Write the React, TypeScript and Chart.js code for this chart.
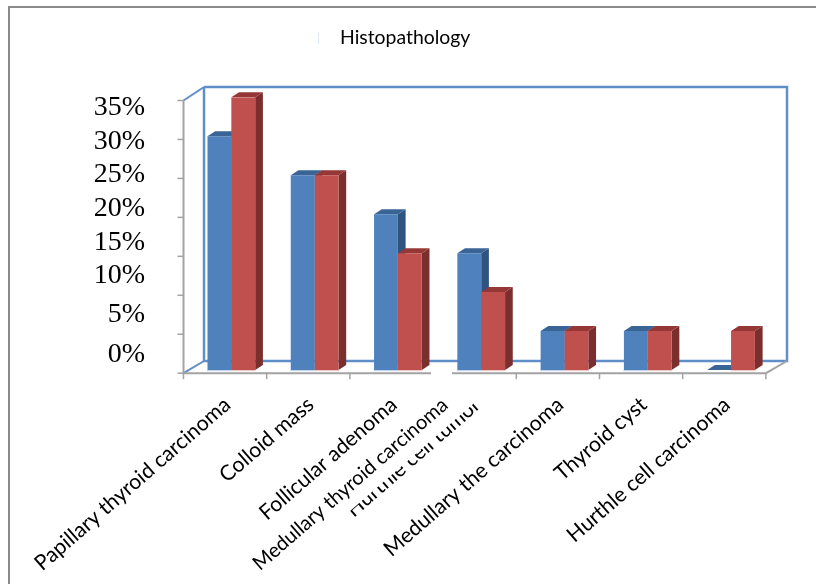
import React, { useEffect, useRef } from "react";
import { Chart, registerables } from "chart.js";

Chart.register(...registerables);

const categories = [
  "Papillary thyroid carcinoma",
  "Colloid mass",
  "Follicular adenoma",
  "Hurthle cell tumor",
  "Medullary the carcinoma",
  "Thyroid cyst",
  "Hurthle cell carcinoma",
];
const seriesBlue = [30, 25, 20, 15, 5, 5, 0];
const seriesRed = [35, 25, 15, 10, 5, 5, 5];
const yTickValues = [35, 30, 25, 20, 15, 10, 5, 0];
const legendLabel = "Histopathology";
const overlayLabel = "Medullary thyroid carcinoma";

// layout only
const Y_LABEL_CENTERS = [108, 142, 175, 209, 243, 276, 315, 355];
const DEPTH_X = 7.7;
const DEPTH_Y = 5;
const LABEL_FONT = "Lato, Carlito, sans-serif";

function poly(ctx: CanvasRenderingContext2D, pts: number[][], fill: string) {
  ctx.fillStyle = fill;
  ctx.beginPath();
  pts.forEach((p, i) => (i ? ctx.lineTo(p[0], p[1]) : ctx.moveTo(p[0], p[1])));
  ctx.closePath();
  ctx.fill();
}
function line(ctx: CanvasRenderingContext2D, pts: number[][], color: string, width: number) {
  ctx.strokeStyle = color;
  ctx.lineWidth = width;
  ctx.beginPath();
  pts.forEach((p, i) => (i ? ctx.lineTo(p[0], p[1]) : ctx.moveTo(p[0], p[1])));
  ctx.stroke();
}

const shell3d = {
  id: "shell3d",
  beforeDatasetsDraw(chart: any) {
    const { ctx, chartArea: a, scales } = chart;
    const BLUE = "#5f8ec8";
    const HALO = "#c9dbef";
    const GRAY = "#a3a3a3";
    const wall = { l: a.left + 14.3, r: a.right + 14.3, t: a.top - 10.3, b: a.bottom - 9 };
    const front = { l: a.left - 6.2, r: a.right - 6.8 };
    const yp = (v: number) => scales.y.getPixelForValue(v) + 3.2;
    ctx.save();
    // frame
    ctx.fillStyle = "#8a8a8a";
    ctx.fillRect(8, 6, 808, 2);
    ctx.fillRect(8, 6, 2, 578);
    // back wall
    const rect = [[wall.l, wall.t], [wall.r, wall.t], [wall.r, wall.b], [wall.l, wall.b], [wall.l, wall.t]];
    line(ctx, rect, HALO, 3.5);
    line(ctx, rect, BLUE, 2);
    line(ctx, [[front.l, yp(35)], [wall.l, wall.t]], BLUE, 2);
    line(ctx, [[front.l, yp(0)], [wall.l, wall.b]], BLUE, 2);
    // axes
    line(ctx, [[front.l, yp(35)], [front.l, yp(0)]], GRAY, 2);
    line(ctx, [[front.l - 1, yp(0)], [front.r, yp(0)], [wall.r, wall.b]], GRAY, 2);
    yTickValues.forEach((v) => line(ctx, [[front.l - 6, yp(v)], [front.l, yp(v)]], GRAY, 1.5));
    const step = (front.r - front.l) / categories.length;
    for (let i = 0; i <= categories.length; i++) {
      const x = front.l + step * i;
      line(ctx, [[x, yp(0)], [x, yp(0) + 6]], GRAY, 1.5);
    }
    // 3-D faces
    const faces = [
      { top: "#3a6496", side: "#2f5480", edge: "#c3d5ea" },
      { top: "#953735", side: "#7a2f2e", edge: "#ecc9c8" },
    ];
    chart.getSortedVisibleDatasetMetas().forEach((meta: any, di: number) => {
      meta.data.forEach((bar: any) => {
        const l = bar.x - bar.width / 2;
        const r = bar.x + bar.width / 2;
        const t = bar.y;
        const b = bar.base;
        if (b - t > 0) {
          ctx.fillStyle = faces[di].edge;
          ctx.fillRect(l - 0.5, b, r - l + 1, 1.2);
          poly(ctx, [[r, t], [r + DEPTH_X, t - DEPTH_Y], [r + DEPTH_X, b - DEPTH_Y], [r, b]], faces[di].side);
        }
        poly(ctx, [[l, t], [l + DEPTH_X, t - DEPTH_Y], [r + DEPTH_X, t - DEPTH_Y], [r, t]], faces[di].top);
      });
    });
    ctx.restore();
  },
  afterDraw(chart: any) {
    const { ctx } = chart;
    ctx.save();
    // legend
    ctx.fillStyle = "#dbe7f3";
    ctx.fillRect(318, 33, 1, 11);
    ctx.fillStyle = "#000";
    ctx.font = `19.4px ${LABEL_FONT}`;
    ctx.textAlign = "left";
    ctx.textBaseline = "middle";
    ctx.fillText(legendLabel, 340, 38);
    // y tick labels
    ctx.font = '28px "Liberation Serif", serif';
    ctx.textAlign = "right";
    yTickValues.forEach((v, i) => ctx.fillText(`${v}%`, 145, Y_LABEL_CENTERS[i]));
    // white text box laid over the axis
    ctx.fillStyle = "#fff";
    ctx.fillRect(431, 371.8, 21, 10);
    ctx.translate(445, 402);
    ctx.rotate((-41 * Math.PI) / 180);
    ctx.fillRect(-272, -12, 300, 32);
    ctx.fillStyle = "#000";
    ctx.font = `20px ${LABEL_FONT}`;
    ctx.textAlign = "right";
    ctx.fillText(overlayLabel, 0, 0);
    ctx.restore();
  },
};

export default function App() {
  const ref = useRef<HTMLCanvasElement>(null);
  useEffect(() => {
    const chart = new Chart(ref.current!, {
      type: "bar",
      data: {
        labels: categories,
        datasets: [
          { label: legendLabel, data: seriesBlue, backgroundColor: "#4f81bd" },
          { label: "", data: seriesRed, backgroundColor: "#c0504d" },
        ],
      },
      plugins: [shell3d],
      options: {
        animation: false,
        responsive: false,
        devicePixelRatio: 1,
        layout: { padding: { left: 189.7, right: 43.3, top: 97.3, bottom: 0 } },
        datasets: { bar: { categoryPercentage: 0.573, barPercentage: 1 } },
        plugins: { legend: { display: false }, tooltip: { enabled: false }, title: { display: false } },
        scales: {
          x: {
            grid: { display: false, drawTicks: false },
            border: { display: false },
            afterFit: (s: any) => {
              s.height = 214;
            },
            ticks: {
              autoSkip: false,
              minRotation: 41,
              maxRotation: 41,
              padding: 22,
              labelOffset: -4,
              color: "#000",
              font: { family: LABEL_FONT, size: 21.2 },
            },
          },
          y: { display: false, min: 0, max: 35, ticks: { stepSize: 5 } },
        },
      } as any,
    });
    return () => chart.destroy();
  }, []);
  return (
    <div style={{ position: "absolute", left: 0, top: 0, width: 816, height: 584, background: "#fff" }}>
      <canvas ref={ref} width={816} height={584} style={{ display: "block" }} />
    </div>
  );
}
